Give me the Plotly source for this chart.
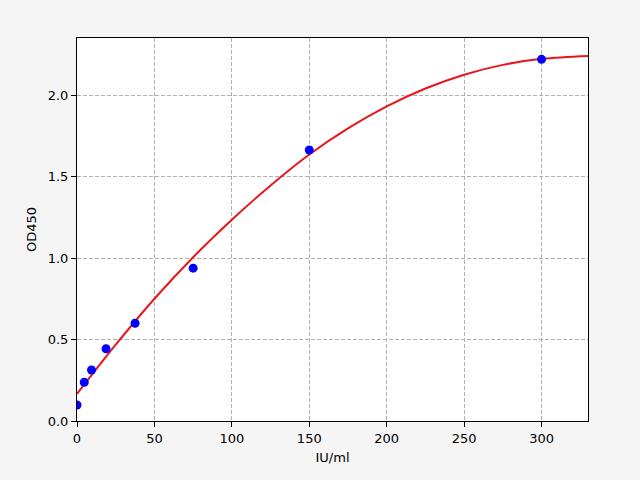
import plotly.graph_objects as go

# Standard points
conc = [0, 4.69, 9.375, 18.75, 37.5, 75, 150, 300]
od = [0.098, 0.238, 0.313, 0.443, 0.600, 0.938, 1.663, 2.219]

# Fitted curve
fit_x = [0, 25, 50, 75, 100, 125, 150, 175, 200, 225, 250, 275, 300, 330]
fit_y = [0.166, 0.468, 0.750, 1.005, 1.235, 1.445, 1.635, 1.795, 1.930,
         2.040, 2.125, 2.185, 2.222, 2.240]

fig = go.Figure()

fig.add_trace(go.Scatter(
    x=fit_x, y=fit_y, mode="lines",
    line=dict(color="#e8161a", width=2, shape="spline"),
    showlegend=False,
))

fig.add_trace(go.Scatter(
    x=conc, y=od, mode="markers",
    marker=dict(color="#0000ff", size=9),
    showlegend=False,
))

axis_style = dict(
    showline=True, linecolor="black", linewidth=1, mirror=True,
    ticks="outside", ticklen=5, tickcolor="black",
    showgrid=True, gridcolor="#b0b0b0", griddash="4px,2px", gridwidth=1,
    zeroline=False,
    tickfont=dict(family="DejaVu Sans", size=13, color="black"),
)

fig.update_xaxes(
    range=[0, 330], tickvals=[0, 50, 100, 150, 200, 250, 300],
    title=dict(text="IU/ml", standoff=8,
               font=dict(family="DejaVu Sans", size=13, color="black")),
    **axis_style,
)
fig.update_yaxes(
    range=[0, 2.35], tickvals=[0, 0.5, 1.0, 1.5, 2.0], tickformat=".1f",
    title=dict(text="OD450", standoff=8,
               font=dict(family="DejaVu Sans", size=13, color="black")),
    **axis_style,
)

fig.update_layout(
    width=640, height=480,
    margin=dict(l=77, r=52, t=38, b=59),
    paper_bgcolor="#f5f5f5", plot_bgcolor="white",
)

# drop the browser's default body margin so the figure sits at 0,0
fig.write_html("out.html", config={"displayModeBar": False},
               post_script="document.body.style.margin='0';")
